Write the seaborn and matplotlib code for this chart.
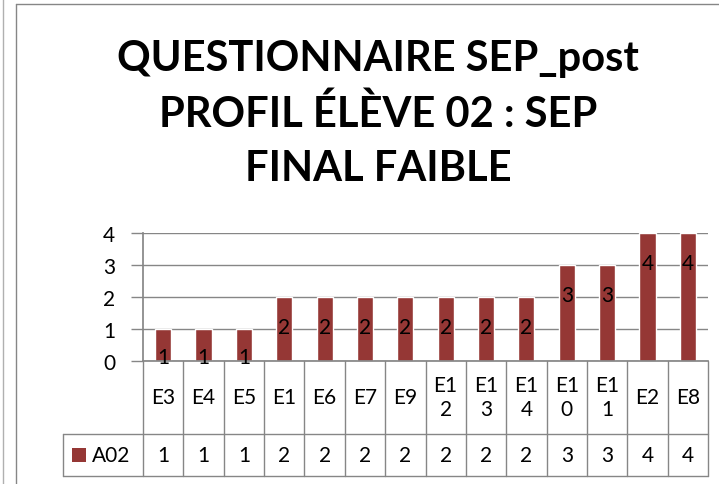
import matplotlib
matplotlib.use("Agg")
import matplotlib.pyplot as plt
import matplotlib.lines as mlines
import matplotlib.patches as mpatches
import matplotlib.transforms as mtrans
import seaborn as sns
import pandas as pd

categories = ["E3", "E4", "E5", "E1", "E6", "E7", "E9", "E12", "E13", "E14", "E10", "E11", "E2", "E8"]
values = [1, 1, 1, 2, 2, 2, 2, 2, 2, 2, 3, 3, 4, 4]
series_name = "A02"
yticks = [0, 1, 2, 3, 4]
title = "QUESTIONNAIRE SEP_post\nPROFIL ÉLÈVE 02 : SEP\nFINAL FAIBLE"

BAR = "#953735"
GRID = "#868686"
FONT = ["Lato", "DejaVu Sans"]
FS = 15

sns.set_theme(style="white")
plt.rcParams["font.family"] = FONT
plt.rcParams["text.color"] = "black"
plt.rcParams["ytick.color"] = "black"
plt.rcParams["xtick.color"] = "black"

df = pd.DataFrame({"cat": categories, "val": values})

W, H = 719, 485
fig = plt.figure(figsize=(W / 100, H / 100), dpi=100)
L, R, B, T = 143, 708, 362, 234
ax = fig.add_axes([L / W, (H - B) / H, (R - L) / W, (B - T) / H])

sns.barplot(data=df, x="cat", y="val", color=BAR, width=0.4, ax=ax,
            saturation=1, order=categories)
ax.set_ylim(0, 4)
ax.set_xlim(-0.5, len(categories) - 0.5)
ax.set_yticks(yticks)
ax.set_yticklabels([str(t) for t in yticks], fontsize=FS, color="black")
ax.tick_params(axis="y", length=9, color=GRID, width=1, pad=11, left=True, labelcolor="black")
ax.set_xticks([])
ax.set_xlabel("")
ax.set_ylabel("")
ax.yaxis.grid(True, color=GRID, linewidth=1)
ax.set_axisbelow(True)
for s in ["top", "right"]:
    ax.spines[s].set_visible(False)
ax.spines["left"].set_color(GRID)
ax.spines["bottom"].set_color(GRID)

# data labels
for i, v in enumerate(values):
    ax.text(i, max(v - 0.95, 0.12), str(v), ha="center", va="center",
            fontsize=FS, color="black")

# data table below axis
def fx(px):
    return (px - L) / (R - L)

def fy(py):
    return (B - py) / (B - T)

row1 = 435
row2 = 477
tr = ax.transAxes
lc = dict(color=GRID, linewidth=1, transform=tr, clip_on=False)
ax.add_line(mlines.Line2D([fx(63), 1], [fy(row1), fy(row1)], **lc))
ax.add_line(mlines.Line2D([fx(63), 1], [fy(row2), fy(row2)], **lc))
ax.add_line(mlines.Line2D([fx(63), fx(63)], [fy(row1), fy(row2)], **lc))
n = len(categories)
for k in range(n + 1):
    x = k / n
    ax.add_line(mlines.Line2D([x, x], [0, fy(row2)], **lc))

blend = mtrans.blended_transform_factory(ax.transData, ax.transAxes)
ymid1 = fy((B + row1) / 2)
ymid2 = fy((row1 + row2) / 2)
for i, (c, v) in enumerate(zip(categories, values)):
    lab = c if len(c) <= 2 else c[:2] + "\n" + c[2:]
    ax.text(i, ymid1, lab, ha="center", va="center", fontsize=FS,
            transform=blend, clip_on=False, linespacing=1.25, color="black")
    ax.text(i, ymid2, str(v), ha="center", va="center", fontsize=FS,
            transform=blend, clip_on=False, color="black")

# legend key in table
sq = 14
ax.add_patch(mpatches.Rectangle((fx(72), fy(463)), fx(72 + sq) - fx(72), fy(449) - fy(463),
                                transform=tr, clip_on=False, facecolor=BAR, edgecolor="none"))
ax.text(fx(92), ymid2, series_name, ha="left", va="center", fontsize=FS,
        transform=tr, clip_on=False, color="black")

# chart borders
fig.add_artist(mlines.Line2D([3 / W, 3 / W], [0, 1], color="#b0b0b0", linewidth=1, transform=fig.transFigure))
fig.add_artist(mlines.Line2D([16 / W, 16 / W], [0, 1 - 4.5 / H], color=GRID, linewidth=1, transform=fig.transFigure))
fig.add_artist(mlines.Line2D([16 / W, 1], [1 - 4.5 / H, 1 - 4.5 / H], color=GRID, linewidth=1, transform=fig.transFigure))

fig.text(378 / W, 1 - 114 / H, title, ha="center", va="center", fontsize=30,
         fontweight="bold", linespacing=1.52, multialignment="center", color="black")

fig.savefig("out.png", dpi=100)
